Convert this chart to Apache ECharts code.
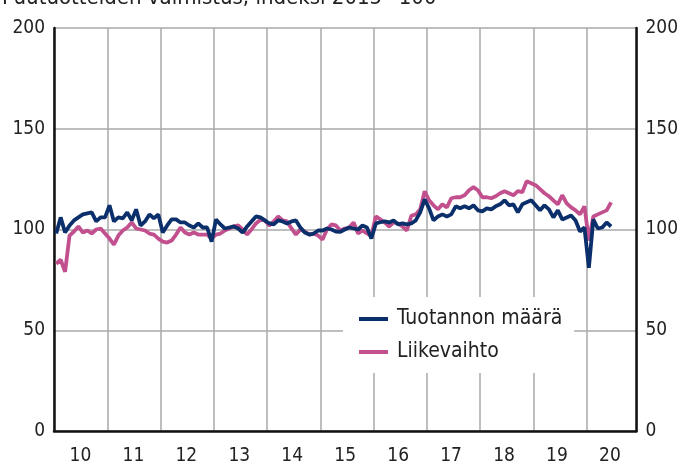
<!DOCTYPE html>
<html>
<head>
<meta charset="utf-8">
<script src="https://cdn.jsdelivr.net/npm/echarts@6/dist/echarts.min.js"></script>
<style>
html,body{margin:0;padding:0;background:#fff;}
#c{width:681px;height:466px;}
</style>
</head>
<body>
<div id="c"></div>
<script>
const titleText = 'Puutuotteiden valmistus, indeksi 2015=100';
const yearLabels = ['10','11','12','13','14','15','16','17','18','19','20'];
const yTicks = [0, 50, 100, 150, 200];
const seriesNames = ['Tuotannon määrä', 'Liikevaihto'];
// Monthly values, Jan 2010 – Jun 2020
const tuotanto = [
  98,106,98.5,102,104.5,106,107.5,108,108.5,104,106,106,
  112,104,106,105.5,108.5,104.5,110,102,104,107.5,105.5,107.5,
  98.5,102,105,105,103.5,103.5,102,101,103,101,101,94,
  105,102.5,100.5,101,101.5,100.5,98.5,101.5,104,106.5,106,104.5,
  103,102.5,104.5,104,103,104,104.5,101,98.5,97.5,98,99.5,
  99.5,100.5,100,99,98.8,100,101,100.5,100,102,101,95.5,
  103,103.6,104,103.5,104.5,102.5,103,102.5,103,104.5,108.5,115,
  110.5,104.5,106.5,107.5,106.5,107.5,111.5,110.5,111.5,110.5,112,109.5,
  109,110.5,110,111.5,112.5,114.5,112,112.5,108.5,112.5,113.5,114.5,
  112,109.5,112,110,106,109.5,105,106,107,104.5,99,101,
  81,105,100.5,101,103.5,101.5
];
const liikevaihto = [
  83,85,79,97,99,101.5,98.5,99.5,98,100,100.5,98,
  95.5,92.5,97,99.5,101,103.5,100.5,100,99.5,98,97.5,95.5,
  94,93.5,94.5,97.5,101,98.5,97.5,98.5,97.5,97.5,97.5,95.5,
  97.5,98,99.5,100.5,101.5,102,100,97.5,100,103,104.8,104.5,
  102,104,106.5,104.5,104,100.5,97.5,100,99,97.5,98,97,
  95,100,102.5,102,99.5,100.5,101,103.5,98,99.5,98,97,
  106.5,105,103.5,101.5,103.5,103,101.5,99.5,106.8,107.5,110,119,
  114.5,112,110,112.5,111,115.5,116,116,117,119.5,121,119.5,
  116,116,115.5,116.5,118,119,118,117,119,118.5,124,123,
  122,120,118,116.5,114.5,112.5,117,113,111,109.5,107.5,111.5,
  94.5,106.5,107.5,108.5,109.5,113.5
];

const blue = '#0b2f6b';
const pink = '#c24f8e';
const fontFam = "'Liberation Sans Narrow','DejaVu Sans Condensed',sans-serif";
const toPairs = arr => arr.map((v, i) => [i + 0.5, v]);

const chart = echarts.init(document.getElementById('c'), null, {renderer: 'canvas'});
chart.setOption({
  animation: false,
  backgroundColor: '#fff',
  textStyle: {fontFamily: fontFam},
  graphic: [{
    type: 'text', left: 2, top: -13,
    style: {text: titleText, fontSize: 22, fontFamily: fontFam, fill: '#222'}
  }],
  grid: {left: 54, right: 42, top: 28, bottom: 33, containLabel: false},
  legend: {
    data: seriesNames,
    orient: 'vertical',
    left: 343, top: 297,
    backgroundColor: '#fff',
    padding: [9, 12, 8, 16],
    itemGap: 7,
    itemWidth: 29, itemHeight: 4,
    icon: 'rect',
    textStyle: {fontSize: 21, color: '#222', fontFamily: fontFam, lineHeight: 26, padding: [0, 0, 0, 4]}
  },
  xAxis: [{
    type: 'value', min: 0, max: 131.2, interval: 12,
    axisLine: {show: true, onZero: false, lineStyle: {color: '#111', width: 2.5}},
    axisTick: {show: false},
    axisLabel: {show: false},
    splitLine: {show: true, lineStyle: {color: '#a8a8a8', width: 1.5}}
  }, {
    type: 'category', position: 'bottom', data: yearLabels, boundaryGap: true,
    axisLine: {show: false}, axisTick: {show: false}, splitLine: {show: false},
    axisLabel: {fontSize: 19, color: '#222', margin: 16, interval: 0, fontFamily: fontFam}
  }],
  yAxis: [{
    type: 'value', min: yTicks[0], max: yTicks[yTicks.length - 1], interval: 50, position: 'left',
    axisLine: {show: true, lineStyle: {color: '#111', width: 2.5}},
    axisTick: {show: false},
    axisLabel: {fontSize: 19, color: '#222', margin: 9, fontFamily: fontFam},
    splitLine: {show: true, lineStyle: {color: '#a8a8a8', width: 1.5}}
  }, {
    type: 'value', min: yTicks[0], max: yTicks[yTicks.length - 1], interval: 50, position: 'right',
    axisLine: {show: true, lineStyle: {color: '#111', width: 2.5}},
    axisTick: {show: false},
    axisLabel: {fontSize: 19, color: '#222', margin: 9, fontFamily: fontFam},
    splitLine: {show: false}
  }],
  series: [{
    name: seriesNames[1], type: 'line', xAxisIndex: 0, yAxisIndex: 0,
    data: toPairs(liikevaihto), showSymbol: false, symbol: 'none',
    lineStyle: {color: pink, width: 3.8}, itemStyle: {color: pink}, z: 2
  }, {
    name: seriesNames[0], type: 'line', xAxisIndex: 0, yAxisIndex: 0,
    data: toPairs(tuotanto), showSymbol: false, symbol: 'none',
    lineStyle: {color: blue, width: 3.8}, itemStyle: {color: blue}, z: 3
  }]
});
</script>
</body>
</html>
